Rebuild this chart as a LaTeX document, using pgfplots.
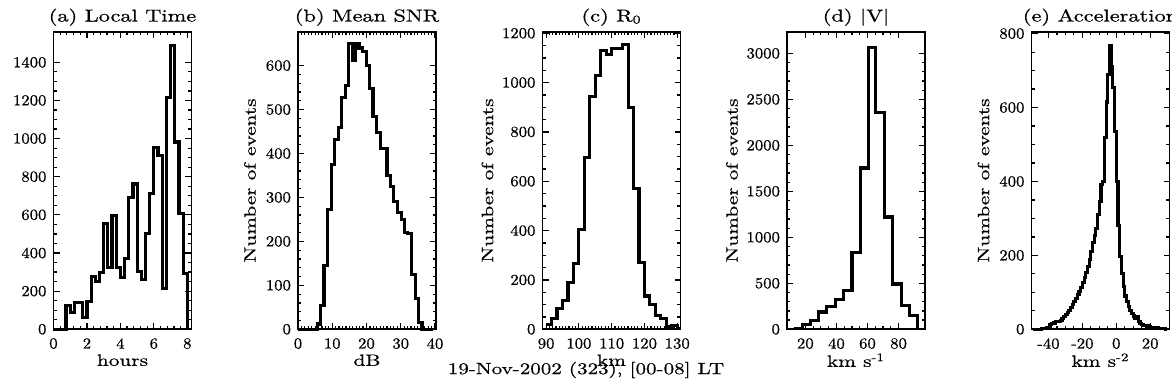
\documentclass[border=0pt]{standalone}
\usepackage{fontspec}
\setmainfont{lmroman10-regular.otf}[FakeStretch=1.1, FakeBold=0.6]
\newfontfamily\lblfont{lmroman10-regular.otf}[FakeStretch=1.3, FakeBold=0.6]
\usepackage{pgfplots}
\pgfplotsset{compat=1.18}

\pgfplotsset{
  hist/.style={
    scale only axis,
    width=69pt, height=148.75pt,
    anchor=south west,
    ymin=0,
    clip=false,
    axis line style={black, line width=0.8pt},
    tick style={black, line width=0.6pt},
    major tick length=3pt,
    minor tick length=1.6pt,
    tick align=inside,
    scaled ticks=false,
    /pgf/number format/1000 sep={},
    /pgf/number format/assume math mode=true,
    ticklabel style={font=\fontsize{7.6}{8}\selectfont},
    xticklabel style={yshift=-1pt},
    label style={font=\lblfont\fontsize{8.2}{9}\selectfont},
    xlabel style={at={(axis description cs:0.5,-0.104)}, anchor=center},
    every axis title shift=0pt,
    title style={font=\lblfont\fontsize{8.6}{10}\selectfont, at={(axis description cs:0.5,1.049)}, anchor=center},
  },
  ylab4/.style={ylabel style={at={(axis description cs:-0.399,0.5)}, anchor=center}},
  ylab3/.style={ylabel style={at={(axis description cs:-0.348,0.5)}, anchor=center}},
  histline/.style={const plot mark left, black, line width=1.55pt, line join=miter, mark=none},
}

\begin{document}
\begin{tikzpicture}
\useasboundingbox (0,0) rectangle (586pt,192pt);

% (a) local time, 15-minute bins
\begin{axis}[hist, at={(26.75pt,27.35pt)},
  ylabel style={at={(axis description cs:-0.45,0.5)}, anchor=center},
  title={(a) Local Time}, xlabel={hours}, ylabel={Number of events},
  xmin=0, xmax=8.25, ymax=1560,
  xtick={0,2,4,6,8}, ytick={0,200,400,600,800,1000,1200,1400},
  minor x tick num=4, minor y tick num=3]
\addplot[histline] coordinates {
  (0,0) (0.75,127) (1.0,86) (1.25,142) (1.5,140) (1.75,64) (2.0,148)
  (2.25,279) (2.5,250) (2.75,298) (3.0,553) (3.25,325) (3.5,597)
  (3.75,322) (4.0,273) (4.25,371) (4.5,690) (4.75,762) (5.0,305)
  (5.25,261) (5.5,502) (5.75,712) (6.0,951) (6.25,913) (6.5,214)
  (6.75,1217) (7.0,1487) (7.25,982) (7.5,609) (7.75,291) (8.0,0)
};
\end{axis}

% (b) mean SNR
\begin{axis}[hist, ylab3, at={(149pt,27.35pt)},
  title={(b) Mean SNR}, xlabel={dB}, ylabel={Number of events},
  xmin=0, xmax=40.3, ymax=677,
  xtick={0,10,20,30,40}, ytick={0,100,200,300,400,500,600},
  minor x tick num=9, minor y tick num=4]
\addplot[histline] coordinates {
  (0,0) (5.6,12) (6.6,55) (7.6,145) (8.7,272) (9.7,375) (10.7,432)
  (11.7,460) (12.7,527) (13.8,555) (14.8,650) (15.8,612) (16.8,650)
  (17.8,640) (18.9,632) (19.9,600) (20.9,548) (21.9,485) (22.9,448)
  (24.0,412) (25.0,412) (26.0,350) (27.0,325) (28.0,290) (29.1,265)
  (30.1,250) (31.1,220) (32.1,218) (33.1,125) (34.2,70) (35.2,15)
  (36.2,0) (39.5,0)
};
\end{axis}

% (c) R0
\begin{axis}[hist, ylab4, at={(271.25pt,27.35pt)},
  title={(c) R\textsubscript{0}}, xlabel={km}, ylabel={Number of events},
  xmin=88.9, xmax=131, ymax=1206,
  xtick={90,100,110,120,130}, ytick={0,200,400,600,800,1000,1200},
  minor x tick num=9, minor y tick num=3]
\addplot[histline] coordinates {
  (90,20) (91.67,45) (93.33,85) (95,115) (96.67,190) (98.33,265)
  (100,405) (101.67,695) (103.33,945) (105,1030) (106.67,1130)
  (108.33,1115) (110,1140) (111.67,1140) (113.33,1155) (115,900)
  (116.67,570) (118.33,270) (120,135) (121.67,100) (123.33,55)
  (125,45) (126.67,12) (128.33,15) (130,3) (130.8,3)
};
\end{axis}

% (d) |V|
\begin{axis}[hist, ylab4, at={(393.5pt,27.35pt)},
  title={(d) |V|}, xlabel={km s\textsuperscript{-1}}, ylabel={Number of events},
  xmin=8.2, xmax=97, ymax=3235,
  xtick={20,40,60,80}, ytick={0,500,1000,1500,2000,2500,3000},
  minor x tick num=3, minor y tick num=4]
\addplot[histline] coordinates {
  (12.5,10) (17.9,50) (23.2,98) (28.5,188) (33.9,250) (39.3,322)
  (44.6,424) (50.0,837) (55.3,1754) (60.7,3069) (65.4,2362)
  (70.9,1221) (76.1,493) (81.7,261) (86.8,152) (92.2,0)
};
\end{axis}

% (e) acceleration, 1 km/s^2 bins
\begin{axis}[hist, ylab3, at={(515.75pt,27.35pt)},
  title={(e) Acceleration}, xlabel={km s\textsuperscript{-2}}, ylabel={Number of events},
  xmin=-50, xmax=31.4, ymax=805,
  xtick={-40,-20,0,20}, xticklabels={-40,-20,0,20},
  ytick={0,200,400,600,800},
  minor x tick num=3, minor y tick num=3]
\addplot[histline] coordinates {
  (-49,0) (-44,1) (-43,2) (-42,3) (-41,4) (-40,6) (-39,12) (-38,15)
  (-37,17) (-36,20) (-35,21) (-34,22) (-33,24) (-32,28) (-31,35)
  (-30,40) (-29,45) (-28,52) (-27,60) (-26,68) (-25,76) (-24,84)
  (-23,93) (-22,102) (-21,113) (-20,126) (-19,140) (-18,153) (-17,170)
  (-16,190) (-15,210) (-14,236) (-13,255) (-12,272) (-11,310) (-10,345)
  (-9,392) (-8,400) (-7,520) (-6,615) (-5,690) (-4,767) (-3,710)
  (-2,655) (-1,535) (0,400) (1,282) (2,198) (3,152) (4,116) (5,90)
  (6,74) (7,62) (8,50) (9,43) (10,36) (11,30) (12,34) (13,20) (14,16)
  (15,13) (16,11) (17,10) (18,9) (19,7) (20,6) (21,5) (22,5) (23,4)
  (24,4) (25,3) (26,3) (27,2) (28,1) (29,0) (30,0)
};
\end{axis}

\node[font=\lblfont\fontsize{8.1}{9}\selectfont] at (293pt,7pt) {19-Nov-2002 (323), [00-08] LT};
\end{tikzpicture}
\end{document}
